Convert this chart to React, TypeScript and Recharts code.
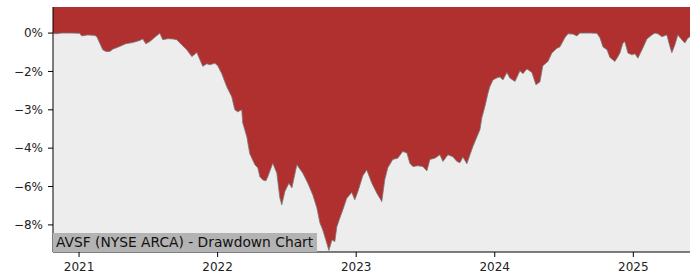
import React from "react";
import { ComposedChart, Area, XAxis, YAxis, CartesianGrid } from "recharts";

// decimal years
const years: number[] = [
  2020.812, 2020.832, 2020.875, 2020.947, 2021.005, 2021.019, 2021.063, 2021.113, 2021.128, 2021.149,
  2021.171, 2021.193, 2021.222, 2021.243, 2021.294, 2021.337, 2021.388, 2021.438, 2021.460, 2021.482,
  2021.511, 2021.554, 2021.583, 2021.604, 2021.640, 2021.677, 2021.705, 2021.741, 2021.777, 2021.814,
  2021.850, 2021.872, 2021.893, 2021.922, 2021.944, 2021.980, 2022.001, 2022.030, 2022.066, 2022.102,
  2022.124, 2022.145, 2022.174, 2022.181, 2022.211, 2022.232, 2022.269, 2022.290, 2022.305, 2022.326,
  2022.348, 2022.362, 2022.398, 2022.427, 2022.449, 2022.463, 2022.485, 2022.514, 2022.536, 2022.572,
  2022.615, 2022.651, 2022.687, 2022.716, 2022.738, 2022.759, 2022.781, 2022.803, 2022.825, 2022.846,
  2022.860, 2022.882, 2022.904, 2022.932, 2022.968, 2022.990, 2023.012, 2023.048, 2023.076, 2023.113,
  2023.149, 2023.185, 2023.206, 2023.228, 2023.264, 2023.300, 2023.336, 2023.366, 2023.387, 2023.409,
  2023.445, 2023.481, 2023.510, 2023.532, 2023.568, 2023.604, 2023.626, 2023.662, 2023.698, 2023.727,
  2023.749, 2023.770, 2023.799, 2023.821, 2023.842, 2023.871, 2023.893, 2023.907, 2023.929, 2023.951,
  2023.965, 2023.987, 2024.016, 2024.037, 2024.059, 2024.088, 2024.109, 2024.146, 2024.182, 2024.203,
  2024.232, 2024.268, 2024.297, 2024.326, 2024.347, 2024.384, 2024.412, 2024.449, 2024.470, 2024.506,
  2024.528, 2024.564, 2024.593, 2024.614, 2024.687, 2024.737, 2024.759, 2024.781, 2024.810, 2024.831,
  2024.867, 2024.889, 2024.903, 2024.925, 2024.939, 2024.961, 2024.990, 2025.012, 2025.033, 2025.069,
  2025.098, 2025.134, 2025.156, 2025.178, 2025.206, 2025.242, 2025.264, 2025.278, 2025.300, 2025.321,
  2025.350, 2025.372, 2025.393, 2025.409,
];

// drawdown in percent
const drawdown: number[] = [
  0.0, -0.03, 0.0, 0.0, -0.01, -0.11, -0.07, -0.09, -0.14, -0.39,
  -0.65, -0.72, -0.72, -0.63, -0.52, -0.42, -0.37, -0.29, -0.23, -0.42,
  -0.33, -0.13, -0.01, -0.26, -0.22, -0.23, -0.26, -0.46, -0.65, -0.92,
  -0.76, -1.04, -1.3, -1.2, -1.24, -1.18, -1.28, -1.59, -2.1, -2.49,
  -3.0, -3.08, -3.0, -3.51, -4.06, -4.72, -5.15, -5.27, -5.62, -5.74,
  -5.78, -5.62, -5.09, -5.47, -6.44, -6.72, -6.2, -5.87, -6.05, -5.15,
  -5.48, -5.87, -6.33, -6.83, -7.42, -7.7, -8.09, -8.5, -8.09, -8.15,
  -7.58, -7.23, -6.91, -6.46, -6.23, -6.52, -6.2, -5.58, -5.35, -5.87,
  -6.26, -6.59, -5.74, -5.27, -4.94, -4.89, -4.63, -4.69, -5.09, -5.22,
  -5.19, -5.22, -5.39, -4.94, -4.89, -4.76, -5.02, -4.76, -4.84, -5.02,
  -5.07, -4.85, -5.11, -4.76, -4.44, -4.06, -3.78, -3.31, -2.87, -2.35,
  -2.09, -1.83, -1.75, -1.72, -1.83, -1.54, -1.76, -1.89, -1.47, -1.59,
  -1.4, -1.54, -2.02, -1.91, -1.28, -1.11, -0.78, -0.59, -0.54, -0.18,
  -0.03, -0.04, -0.11, 0.0, 0.0, -0.01, -0.18, -0.54, -0.65, -0.95,
  -1.11, -0.92, -0.78, -0.39, -0.34, -0.78, -0.85, -0.81, -0.98, -0.58,
  -0.23, -0.07, 0.0, -0.03, -0.14, -0.07, -0.52, -0.77, -0.46, -0.07,
  -0.26, -0.39, -0.2, -0.14,
];

const xTicks: number[] = [2021, 2022, 2023, 2024, 2025];
const yTickValues: number[] = [0, -1.5, -3, -4.5, -6, -7.5];
const yTickLabels: string[] = ["0%", "\u22122%", "\u22123%", "\u22124%", "\u22126%", "\u22128%"];
const title = "AVSF (NYSE ARCA) - Drawdown Chart";

const xDomain: [number, number] = [2020.812, 2025.409];
const yDomain: [number, number] = [-8.56, 1.02];

const data = years.map((t, i) => ({ t, v: drawdown[i] }));

const FONT = "'DejaVu Sans', sans-serif";
const tickStyle = { fontSize: 12, fill: "#222", fontFamily: FONT };

export default function App() {
  return (
    <div style={{ position: "absolute", left: 0, top: 0, width: 700, height: 280, background: "#fff" }}>
      <ComposedChart
        width={700}
        height={280}
        data={data}
        margin={{ top: 7, right: 10, bottom: 0, left: 0 }}
      >
        <CartesianGrid horizontal={false} vertical={false} fill="#ededed" />
        <XAxis
          xAxisId="b"
          dataKey="t"
          type="number"
          domain={xDomain}
          allowDataOverflow
          ticks={xTicks}
          tickFormatter={(v: number) => String(v)}
          height={28}
          tickSize={5}
          tickMargin={5}
          stroke="#000"
          tick={tickStyle}
        />
        <XAxis
          xAxisId="top"
          orientation="top"
          dataKey="t"
          type="number"
          domain={xDomain}
          allowDataOverflow
          tick={false}
          tickLine={false}
          height={0}
          stroke="#000"
        />
        <YAxis
          yAxisId="l"
          type="number"
          domain={yDomain}
          allowDataOverflow
          ticks={yTickValues}
          tickFormatter={(v: number) => yTickLabels[yTickValues.indexOf(v)] ?? ""}
          width={53}
          tickSize={5}
          tickMargin={5}
          stroke="#000"
          tick={tickStyle}
          interval={0}
        />
        <YAxis
          yAxisId="r"
          orientation="right"
          type="number"
          domain={yDomain}
          allowDataOverflow
          tick={false}
          tickLine={false}
          width={0}
          stroke="#000"
        />
        <Area
          xAxisId="b"
          yAxisId="l"
          dataKey="v"
          type="linear"
          baseValue={yDomain[1]}
          fill="#b03030"
          fillOpacity={1}
          stroke="#7a7a7a"
          strokeWidth={0.8}
          isAnimationActive={false}
          dot={false}
          activeDot={false}
        />
      </ComposedChart>
      <div
        style={{
          position: "absolute",
          left: 53,
          top: 233,
          width: 264,
          height: 19,
          background: "#b3b3b3",
          fontFamily: FONT,
          fontSize: 13.8,
          lineHeight: "19px",
          color: "#111",
          paddingLeft: 3,
          boxSizing: "border-box",
          whiteSpace: "nowrap",
        }}
      >
        {title}
      </div>
    </div>
  );
}
